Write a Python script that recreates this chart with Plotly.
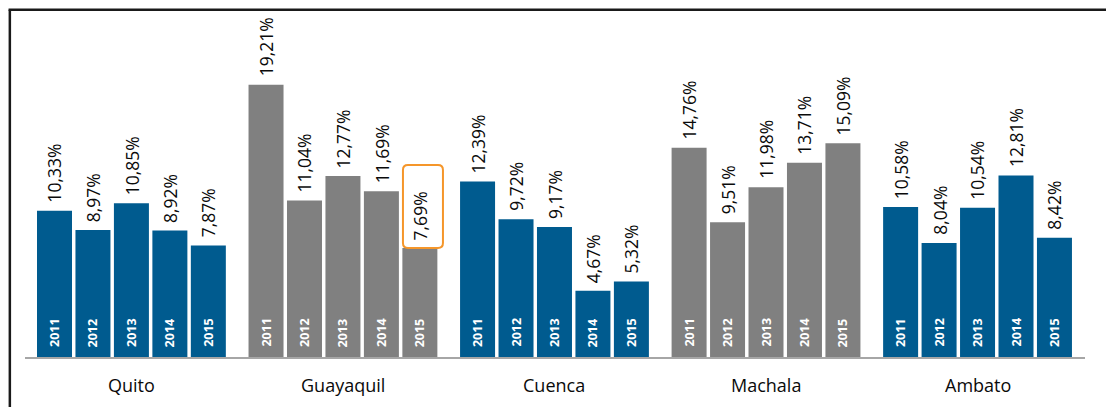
import plotly.graph_objects as go

# ---- data ----
cities = ["Quito", "Guayaquil", "Cuenca", "Machala", "Ambato"]
years = ["2011", "2012", "2013", "2014", "2015"]
quito = [10.33, 8.97, 10.85, 8.92, 7.87]
guayaquil = [19.21, 11.04, 12.77, 11.69, 7.69]
cuenca = [12.39, 9.72, 9.17, 4.67, 5.32]
machala = [14.76, 9.51, 11.98, 13.71, 15.09]
ambato = [10.58, 8.04, 10.54, 12.81, 8.42]
series = [quito, guayaquil, cuenca, machala, ambato]
highlight = ("Guayaquil", "2015")

BLUE = "#005B8F"
GRAY = "#808080"
city_colors = [BLUE, GRAY, BLUE, GRAY, BLUE]

GROUP = 5.5   # group pitch in bar steps
W = 0.91      # bar width
FONT = "Open Sans"

xs, ys, cols = [], [], []
for g, (city, vals) in enumerate(zip(cities, series)):
    for i, v in enumerate(vals):
        xs.append(g * GROUP + i)
        ys.append(v)
        cols.append(city_colors[g])

fig = go.Figure(go.Bar(x=xs, y=ys, width=W,
                       marker=dict(color=cols, line=dict(width=0)),
                       hoverinfo="skip"))

annotations = []
shapes = []
k = 0
for g, (city, vals) in enumerate(zip(cities, series)):
    for i, v in enumerate(vals):
        x = xs[k]
        label = f"{v:.2f}".replace(".", ",") + "%"
        annotations.append(dict(x=x, y=v, xref="x", yref="y", text=label,
                                textangle=-90, showarrow=False,
                                xanchor="center", yanchor="bottom", yshift=6,
                                font=dict(family=FONT, size=17.5, color="#0a0a0a")))
        annotations.append(dict(x=x, y=0, xref="x", yref="y", text=f"<b>{years[i]}</b>",
                                textangle=-90, showarrow=False,
                                xanchor="center", yanchor="bottom", yshift=8,
                                font=dict(family=FONT, size=12.5, color="white")))
        if (city, years[i]) == highlight:
            x0, x1 = x - 0.44, x + 0.60
            y0, y1 = v, v + 5.86
            rx, ry = 0.13, 0.35
            path = (f"M {x0+rx},{y0} L {x1-rx},{y0} Q {x1},{y0} {x1},{y0+ry} "
                    f"L {x1},{y1-ry} Q {x1},{y1} {x1-rx},{y1} L {x0+rx},{y1} "
                    f"Q {x0},{y1} {x0},{y1-ry} L {x0},{y0+ry} Q {x0},{y0} {x0+rx},{y0} Z")
            shapes.append(dict(type="path", path=path, xref="x", yref="y",
                               line=dict(color="#F5962A", width=2), layer="above"))
        k += 1
    annotations.append(dict(x=g * GROUP + 2, y=0, xref="x", yref="y", text=city,
                            showarrow=False, xanchor="center", yanchor="middle", yshift=-28,
                            font=dict(family=FONT, size=18, color="#0a0a0a")))

# outer frame (left and top edges)
shapes.append(dict(type="line", xref="paper", yref="paper",
                   x0=-0.0143, x1=-0.0143, y0=1.0006, y1=-0.17,
                   line=dict(color="#1a1a1a", width=2.5)))
shapes.append(dict(type="line", xref="paper", yref="paper",
                   x0=-0.0155, x1=1.03, y0=1.0006, y1=1.0006,
                   line=dict(color="#1a1a1a", width=2.5)))

fig.update_layout(
    width=1106, height=407,
    margin=dict(l=25, r=21, t=10, b=50),
    paper_bgcolor="white", plot_bgcolor="white",
    showlegend=False,
    annotations=annotations, shapes=shapes,
    xaxis=dict(range=[-0.767, 26.794], showgrid=False, zeroline=False,
               showticklabels=False, ticks="", showline=True,
               linecolor="#a6a6a6", linewidth=1.5, fixedrange=True),
    yaxis=dict(range=[0, 24.49], showgrid=False, zeroline=False,
               showticklabels=False, ticks="", showline=False, fixedrange=True),
)

fig.write_html("out.html", config={"displayModeBar": False},
               post_script="document.body.style.margin='0';document.body.style.padding='0';document.body.style.overflow='hidden';")
